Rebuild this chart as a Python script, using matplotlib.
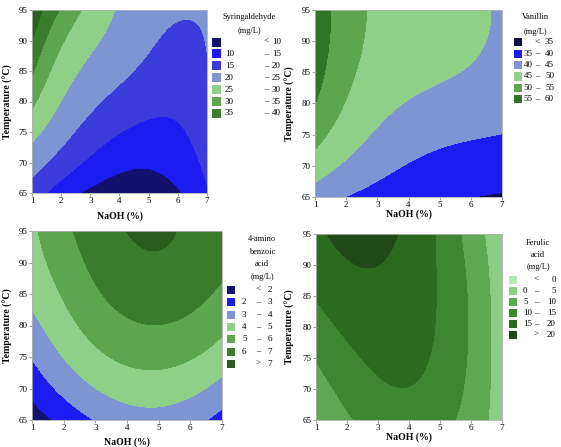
import numpy as np
import matplotlib.pyplot as plt
from matplotlib.patches import Rectangle

plt.rcParams['font.family'] = ['Liberation Serif', 'DejaVu Serif']

W, H = 561, 447

naoh = np.array([1, 2, 3, 4, 5, 6, 7])
temp = np.array([65, 70, 75, 80, 85, 90, 95])

# responses, rows = temperature, columns = NaOH
syringaldehyde = np.array([
    [18.0, 12.5, 8.6, 7.3, 7.0, 9.4, 14.5],
    [22.2, 18.0, 14.5, 11.4, 11.2, 12.3, 16.2],
    [26.7, 21.5, 18.2, 15.0, 13.6, 14.5, 17.4],
    [31.0, 24.7, 21.2, 18.2, 15.9, 16.2, 18.6],
    [35.5, 27.6, 23.6, 21.3, 18.5, 17.8, 19.4],
    [40.5, 30.8, 26.3, 23.4, 21.1, 18.9, 20.3],
    [44.0, 34.3, 28.6, 24.0, 22.0, 20.6, 21.0],
])
vanillin = np.array([
    [42.5, 40.0, 38.2, 36.8, 36.0, 34.9, 34.6],
    [47.5, 44.2, 41.3, 39.7, 38.8, 37.9, 37.5],
    [51.8, 47.4, 44.5, 42.3, 41.0, 40.5, 40.0],
    [55.3, 49.8, 46.8, 44.9, 43.4, 42.6, 41.8],
    [57.3, 51.1, 48.2, 46.6, 45.6, 44.8, 43.1],
    [58.4, 51.8, 48.9, 47.6, 46.6, 46.0, 44.2],
    [59.2, 52.3, 49.3, 48.0, 46.9, 45.9, 44.4],
])
aminobenzoic = np.array([
    [1.50, 2.30, 3.00, 3.50, 3.65, 3.30, 2.60],
    [2.28, 3.20, 4.10, 4.40, 4.45, 4.30, 3.70],
    [3.08, 4.00, 4.80, 5.15, 5.25, 5.05, 4.50],
    [3.73, 4.60, 5.40, 5.85, 6.05, 5.80, 5.15],
    [4.25, 5.10, 5.85, 6.35, 6.55, 6.30, 5.85],
    [4.60, 5.45, 6.30, 6.70, 6.90, 6.65, 6.30],
    [4.85, 5.70, 6.60, 6.90, 7.20, 6.85, 6.60],
])
ferulic = np.array([
    [6.0, 9.6, 11.5, 12.9, 12.0, 7.5, 2.5],
    [8.1, 12.0, 13.9, 14.8, 13.5, 8.3, 2.5],
    [10.1, 14.0, 15.8, 16.0, 14.5, 8.9, 2.4],
    [12.7, 16.0, 17.3, 16.8, 14.8, 9.1, 2.2],
    [15.3, 17.9, 18.7, 17.4, 14.9, 9.0, 2.0],
    [17.6, 19.9, 20.4, 17.9, 14.8, 8.5, 1.8],
    [19.2, 20.9, 21.4, 18.4, 14.6, 7.6, 1.5],
])

syr_cuts = [10, 15, 20, 25, 30, 35, 40]
van_cuts = [35, 40, 45, 50, 55, 60]
ami_cuts = [2, 3, 4, 5, 6, 7]
fer_cuts = [0, 5, 10, 15, 20]

navy, blue, mblue, steel = '#12126e', '#1c1cf0', '#3c3cdc', '#7d95d3'
lgreen, mgreen, dgreen = '#8fcf87', '#5ea64e', '#3a7e2d'

syr_colors = [navy, blue, mblue, steel, lgreen, mgreen, dgreen]
van_colors = ['#0c0c4c', blue, steel, lgreen, mgreen, '#2f7526']
ami_colors = [navy, blue, steel, lgreen, mgreen, '#3a7c2c', '#285c1c']
fer_colors = ['#b9e4b3', '#8ccc84', '#5fa852', '#3f8631', '#2c6a20', '#1f4916']

POW = [(i, j) for i in range(5) for j in range(4)]


def terms(u, v):
    return np.stack([u ** i * v ** j for i, j in POW], -1)


# smooth the read grid with a polynomial surface so the contours come out round
xf = np.linspace(1, 7, 240)
yf = np.linspace(65, 95, 240)
U, V = np.meshgrid((naoh - 4) / 3, (temp - 80) / 15)
Uf, Vf = np.meshgrid((xf - 4) / 3, (yf - 80) / 15)


def smooth(z):
    coef = np.linalg.lstsq(terms(U, V).reshape(-1, len(POW)), z.ravel(), rcond=None)[0]
    return terms(Uf, Vf) @ coef


def fx(px):
    return px / W


def fy(py):
    return 1 - py / H


def panel(box, z, cuts, colors):
    l, t, r, b = box
    ax = fig.add_axes([fx(l), fy(b), fx(r) - fx(l), fy(t) - fy(b)])
    ax.contourf(xf, yf, smooth(z), levels=[-1e4] + cuts + [1e4], colors=colors)
    ax.set_xlim(1, 7)
    ax.set_ylim(65, 95)
    ax.set_xticks(naoh)
    ax.set_yticks(temp)
    ax.tick_params(labelsize=6.5, length=2, width=0.5, pad=1, color='#777777')
    for s in ax.spines.values():
        s.set_color('#b0b0b0')
        s.set_linewidth(0.6)
    return ax


def labels(ax_box, xl_y, yl_x):
    l, t, r, b = ax_box
    fig.text(fx((l + r) / 2), fy(xl_y), 'NaOH (%)', ha='center', va='center',
             fontsize=7, fontweight='bold')
    fig.text(fx(yl_x), fy((t + b) / 2), 'Temperature (°C)', ha='center', va='center',
             rotation=90, fontsize=7, fontweight='bold')


def legend(title, tx, ty, tstep, colors, cuts, above, px, pw, ey, estep, lx, dx, rx):
    for i, line in enumerate(title):
        fig.text(fx(tx), fy(ty + i * tstep), line, ha='center', va='center', fontsize=6)
    rows = [('', '<', '%g' % cuts[0])]
    rows += [('%g' % a, '–', '%g' % b) for a, b in zip(cuts[:-1], cuts[1:])]
    if above:
        rows.append(('', '>', '%g' % cuts[-1]))
    for i, (c, (left, sym, right)) in enumerate(zip(colors, rows)):
        y = ey + i * estep
        fig.add_artist(Rectangle((fx(px), fy(y + pw / 2)), pw / W, pw / H,
                                 transform=fig.transFigure, color=c, lw=0))
        if left:
            fig.text(fx(lx), fy(y), left, ha='left', va='center', fontsize=6.5)
        fig.text(fx(dx), fy(y), sym, ha='center', va='center', fontsize=6.5)
        fig.text(fx(rx), fy(y), right, ha='right', va='center', fontsize=6.5)


fig = plt.figure(figsize=(W / 100, H / 100), dpi=100)

b1 = (32, 10, 207, 193)
panel(b1, syringaldehyde, syr_cuts, syr_colors + ['#2a6020'])
labels(b1, 216, 8)
legend(['Syringaldehyde', '(mg/L)'], 249, 17, 14, syr_colors, syr_cuts, False,
       212, 9, 42, 11.9, 225, 266.5, 281)

b2 = (315, 10, 502, 197)
panel(b2, vanillin, van_cuts, van_colors + [van_colors[-1]])
labels(b2, 214, 290)
legend(['Vanillin', '(mg/L)'], 535, 17, 15, van_colors, van_cuts, False,
       513.5, 8, 42.3, 11.4, 523.5, 537.5, 554)

b3 = (32, 231, 222, 420)
panel(b3, aminobenzoic, ami_cuts, ami_colors)
labels(b3, 442, 8)
legend(['4-amino', 'benzoic', 'acid', '(mg/L)'], 262, 239, 12.7, ami_colors, ami_cuts, True,
       226.5, 8, 290, 12.3, 242, 258, 272)

b4 = (316, 234, 502, 420)
panel(b4, ferulic, fer_cuts, fer_colors)
labels(b4, 437, 290)
legend(['Ferulic', 'acid', '(mg/L)'], 538, 243, 12, fer_colors, fer_cuts, True,
       508.5, 8.5, 280, 11, 523, 536.5, 556)

fig.savefig('out.png', dpi=100)
